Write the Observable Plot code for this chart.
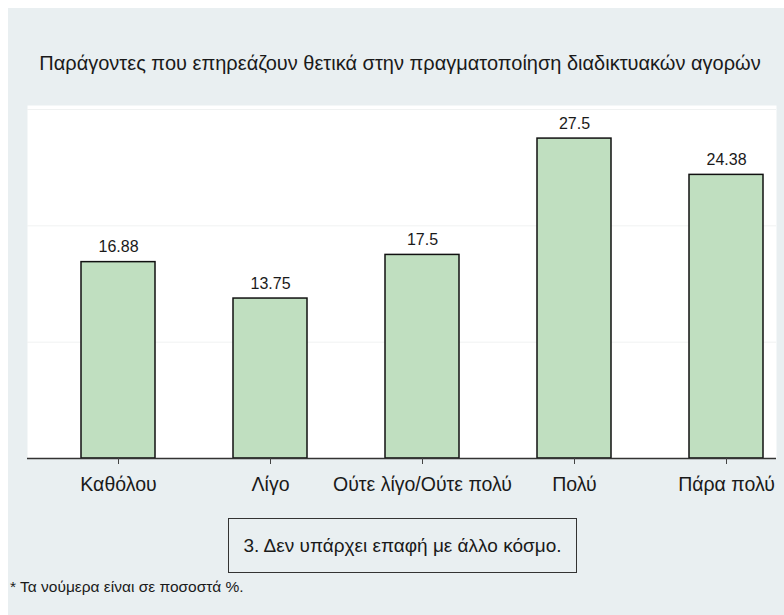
<!DOCTYPE html>
<html>
<head>
<meta charset="utf-8">
<script src="https://cdn.jsdelivr.net/npm/d3@7"></script>
<script src="https://cdn.jsdelivr.net/npm/@observablehq/plot@0.6"></script>
<style>
  html, body { margin: 0; padding: 0; background: #ffffff; }
  body { width: 784px; height: 615px; position: relative; overflow: hidden; font-family: "Liberation Sans", Arial, sans-serif; }
  #bg { position: absolute; left: 8px; top: 8px; width: 776px; height: 607px; background: #e9eff1; }
  #title { position: absolute; left: 0; width: 800px; top: 52px; text-align: center; font-size: 20px; color: #1a1a1a; }
  #chart { position: absolute; left: 0; top: 0; }
  #note { position: absolute; left: 228px; top: 518px; width: 349px; height: 55px; border: 1px solid #333; box-sizing: border-box; display: flex; align-items: center; justify-content: center; font-size: 19px; color: #1a1a1a; }
  #foot { position: absolute; left: 10px; top: 578px; font-size: 15.5px; color: #1a1a1a; }
</style>
</head>
<body>
<div id="bg"></div>
<div id="title">Παράγοντες που επηρεάζουν θετικά στην πραγματοποίηση διαδικτυακών αγορών</div>
<div id="chart"></div>
<div id="note">3. Δεν υπάρχει επαφή με άλλο κόσμο.</div>
<div id="foot">* Τα νούμερα είναι σε ποσοστά %.</div>
<script>
const categories = ["Καθόλου", "Λίγο", "Ούτε λίγο/Ούτε πολύ", "Πολύ", "Πάρα πολύ"];
const values = [16.88, 13.75, 17.5, 27.5, 24.38];
const labels = ["16.88", "13.75", "17.5", "27.5", "24.38"];
const gridValues = [10, 20, 30];

const data = categories.map((c, i) => ({cat: c, value: values[i], label: labels[i]}));

const chart = Plot.plot({
  width: 784,
  height: 510,
  marginTop: 105,
  marginBottom: 52,
  marginLeft: 27,
  marginRight: 8,
  insetTop: 4,
  style: {background: "transparent", fontFamily: "'Liberation Sans', Arial, sans-serif", color: "#1a1a1a"},
  x: {domain: categories, paddingInner: 0.515, paddingOuter: 0.21, align: 0.8, label: null},
  y: {domain: [0, 30], axis: null},
  marks: [
    Plot.frame({fill: "white", stroke: null}),
    Plot.ruleY(gridValues, {stroke: "#f0f2f2", strokeWidth: 1}),
    Plot.barY(data, {x: "cat", y: "value", fill: "#c0dfc0", stroke: "#111", strokeWidth: 1.5}),
    Plot.text(data, {x: "cat", y: "value", text: "label", dy: -15, fontSize: 16, fill: "#1a1a1a"}),
    Plot.ruleY([0], {stroke: "#333", strokeWidth: 1.3}),
    Plot.axisX({tickSize: 6, tickPadding: 13, fontSize: 19.5, stroke: "#444", fill: "#1a1a1a", label: null})
  ]
});
document.getElementById("chart").appendChild(chart);
</script>
</body>
</html>
